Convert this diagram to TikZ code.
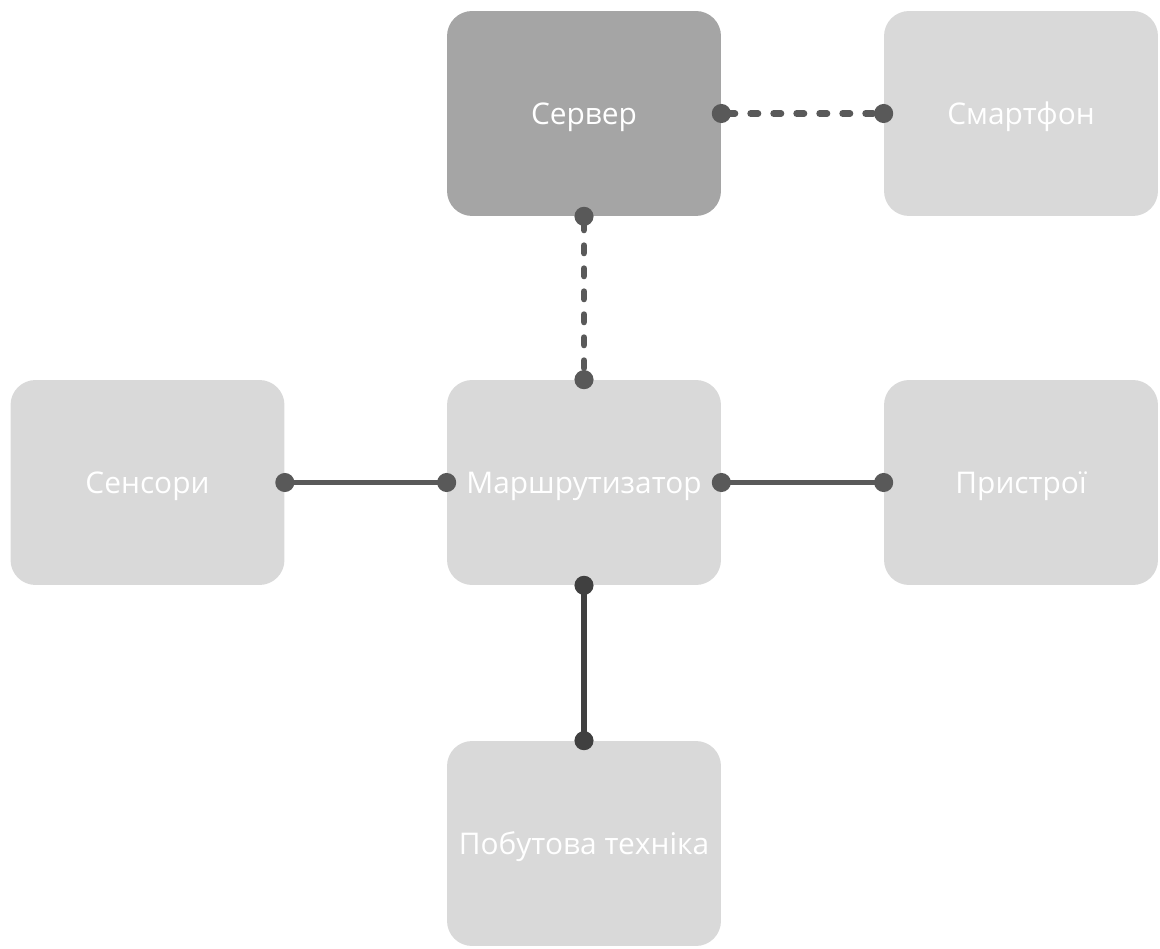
\documentclass[tikz,border=0pt]{standalone}
\usepackage{fontspec}
\setmainfont{Open Sans}
\usetikzlibrary{arrows.meta}

\definecolor{boxlight}{HTML}{D9D9D9}
\definecolor{boxdark}{HTML}{A5A5A5}
\definecolor{linkgray}{HTML}{595959}
\definecolor{linkdark}{HTML}{404040}

\tikzset{
  block/.style={rounded corners=0.5cm,fill=boxlight,text=white,minimum width=5.48cm,minimum height=4.1cm,inner sep=0pt,text height=0.54cm,text depth=0.1cm,font=\fontsize{17}{20}\selectfont},
  link/.style={linkgray,line width=0.12cm,{Circle[length=0.38cm]}-{Circle[length=0.38cm]},shorten <=-0.19cm,shorten >=-0.19cm},
  dashlink/.style={link,line width=0.13cm,line cap=round,dash pattern=on 0.15cm off 0.31cm}
}

\begin{document}
\begin{tikzpicture}[x=0.02cm,y=-0.02cm]
\useasboundingbox (0,0) rectangle (1160,949);
% boxes
\node[block,fill=boxdark] (srv) at (584,113.5) {Сервер};
\node[block] (phone) at (1021,113.5) {Смартфон};
\node[block] (sens) at (147.5,482.5) {Сенсори};
\node[block] (router) at (584,482.5) {Маршрутизатор};
\node[block] (dev) at (1021,482.5) {Пристрої};
\node[block] (home) at (584,843.5) {Побутова техніка};
% links
\draw[dashlink] (srv.east) -- (phone.west);
\draw[dashlink] (srv.south) -- (router.north);
\draw[link] (sens.east) -- (router.west);
\draw[link] (router.east) -- (dev.west);
\draw[link,linkdark] (router.south) -- (home.north);
\end{tikzpicture}
\end{document}
